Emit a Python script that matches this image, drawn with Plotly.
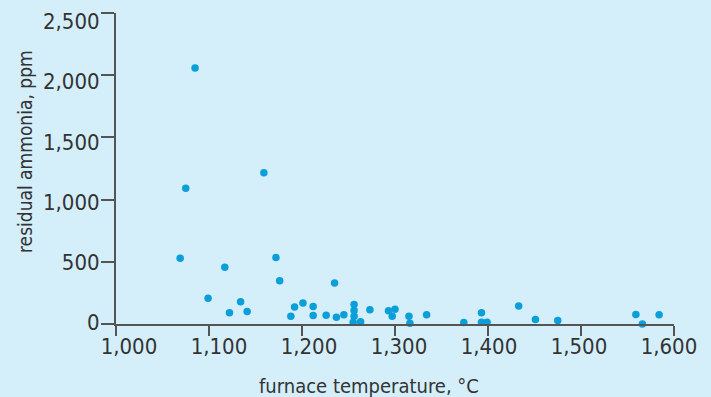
import plotly.graph_objects as go

temperature = [1069, 1075, 1085, 1099, 1117, 1122, 1134, 1141, 1159, 1172,
               1176, 1188, 1192, 1201, 1212, 1212, 1226, 1235, 1237, 1245,
               1256, 1256, 1256, 1255, 1263, 1273, 1293, 1297, 1300, 1315,
               1316, 1334, 1374, 1393, 1393, 1399, 1433, 1451, 1475, 1559,
               1566, 1584]
ammonia = [528, 1091, 2058, 206, 456, 90, 179, 101, 1216, 534,
           348, 63, 136, 168, 141, 69, 71, 329, 55, 74,
           157, 109, 63, 15, 18, 115, 106, 63, 119, 63,
           6, 74, 12, 90, 15, 15, 144, 36, 28, 77,
           0, 74]

x_ticks = [1000, 1100, 1200, 1300, 1400, 1500, 1600]
x_tick_labels = ["1,000", "1,100", "1,200", "1,300", "1,400", "1,500", "1,600"]
y_ticks = [0, 500, 1000, 1500, 2000, 2500]
y_tick_labels = ["0", "500", "1,000", "1,500", "2,000", "2,500"]

BG = "#D4EEFA"
FONT = "DejaVu Sans Condensed, Liberation Sans, sans-serif"
TXT = "#333333"
AX = "#555555"
FS = 22

fig = go.Figure()
fig.add_trace(go.Scatter(
    x=temperature, y=ammonia, mode="markers",
    marker=dict(size=7.5, color="#0A9FD8", line=dict(width=0)),
    cliponaxis=False, showlegend=False,
))

fig.update_layout(
    width=711, height=397,
    margin=dict(l=116, r=37, t=13, b=73, autoexpand=False),
    paper_bgcolor=BG, plot_bgcolor=BG,
    font=dict(family=FONT, color=TXT, size=FS),
    # axes carrying the lines and tick marks
    xaxis=dict(range=[1000, 1600], tickvals=x_ticks, showticklabels=False,
               showgrid=False, zeroline=False, showline=True, linecolor=AX,
               linewidth=1.5, ticks="outside", ticklen=10, tickcolor=AX,
               tickwidth=1.5, automargin=False),
    yaxis=dict(range=[0, 2500], tickvals=y_ticks, showticklabels=False,
               showgrid=False, zeroline=False, showline=True, linecolor=AX,
               linewidth=1.5, ticks="outside", ticklen=13, tickcolor=AX,
               tickwidth=1.5, automargin=False),
    # overlay axes carrying the tick labels (slightly different spacing, as printed)
    xaxis2=dict(range=[985.6, 1605.6], overlaying="x", side="bottom",
                tickvals=x_ticks, ticktext=x_tick_labels, showgrid=False,
                zeroline=False, showline=False, ticks="outside", ticklen=3,
                tickcolor="rgba(0,0,0,0)", automargin=False,
                tickfont=dict(size=FS, family=FONT, color=TXT)),
    yaxis2=dict(range=[-12.5, 2570.6], overlaying="y", side="left",
                tickvals=y_ticks, ticktext=y_tick_labels, showgrid=False,
                zeroline=False, showline=False, ticks="outside", ticklen=11,
                tickcolor="rgba(0,0,0,0)", automargin=False,
                tickfont=dict(size=FS, family=FONT, color=TXT)),
    annotations=[
        dict(text="furnace temperature, °C", xref="paper", yref="paper",
             x=(369 - 116) / (711 - 116 - 37), y=-(386 - 324) / (397 - 13 - 73),
             xanchor="center", yanchor="middle", showarrow=False,
             font=dict(size=20, family=FONT, color=TXT)),
        dict(text="residual ammonia, ppm", xref="paper", yref="paper",
             x=-(116 - 25) / (711 - 116 - 37), y=(324 - 152) / (397 - 13 - 73),
             xanchor="center", yanchor="middle", showarrow=False, textangle=-90,
             font=dict(size=19, family=FONT, color=TXT)),
    ],
)
# invisible trace to activate the label axes
fig.add_trace(go.Scatter(x=[None], y=[None], xaxis="x2", yaxis="y2",
                         mode="markers", showlegend=False, hoverinfo="skip"))

fig.write_html("out.html")
